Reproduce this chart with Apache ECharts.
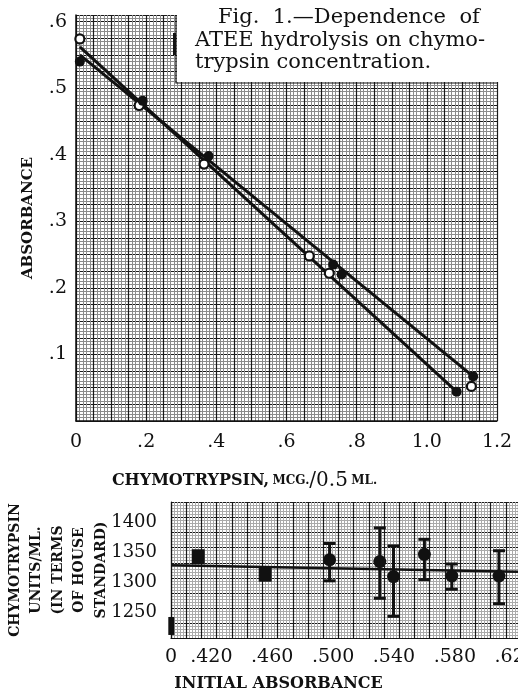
<!DOCTYPE html>
<html>
<head>
<meta charset="utf-8">
<script src="https://cdn.jsdelivr.net/npm/echarts@6/dist/echarts.min.js"></script>
<style>
  html, body { margin: 0; padding: 0; background: #fff; }
  #chart { width: 518px; height: 691px; }
</style>
</head>
<body>
<div id="chart"></div>
<script>
// upper panel - absorbance vs chymotrypsin (mcg/0.5 ml)
var concFilled = [0.011, 0.19, 0.378, 0.733, 0.757, 1.085, 1.132];
var absFilled  = [0.540, 0.481, 0.398, 0.235, 0.220, 0.044, 0.067];
var concOpen   = [0.011, 0.18, 0.365, 0.665, 0.722, 1.127];
var absOpen    = [0.574, 0.474, 0.386, 0.248, 0.222, 0.052];
var lineAConc  = [0.011, 1.085];
var lineAAbs   = [0.562, 0.044];
var lineBConc  = [0.011, 1.132];
var lineBAbs   = [0.550, 0.067];

// lower panel - units/ml vs initial absorbance (broken axis, left edge = "0")
var initAbs    = [0.4114, 0.4554, 0.4977, 0.5307, 0.5397, 0.560, 0.578, 0.609];
var units      = [1342, 1313, 1337, 1334, 1309, 1346, 1310, 1310];
var unitsLow   = [null, null, 1302, 1273, 1243, 1304, 1288, 1264];
var unitsHigh  = [null, null, 1364, 1390, 1360, 1371, 1330, 1352];
var pointShape = ['rect', 'rect', 'circle', 'circle', 'circle', 'circle', 'circle', 'circle'];
var fitAbs     = [0.3935, 0.6215];
var fitUnits   = [1328, 1317];
var breakAbs   = [0.3937];
var breakUnits = [1227];
var lowerXTicks = [0.3935, 0.42, 0.46, 0.50, 0.54, 0.58, 0.62];
var lowerYTicks = [1250, 1300, 1350, 1400];

var serif = 'DejaVu Serif';

function zip(xs, ys) {
  var out = [];
  for (var i = 0; i < xs.length; i++) out.push([xs[i], ys[i]]);
  return out;
}

var pointData = [];
for (var i = 0; i < initAbs.length; i++) {
  pointData.push({
    value: [initAbs[i], units[i]],
    symbol: pointShape[i],
    symbolSize: pointShape[i] == 'rect' ? [13, 15] : 13
  });
}
var errData = [];
for (var i = 0; i < initAbs.length; i++) {
  if (unitsLow[i] != null) errData.push([initAbs[i], unitsLow[i], unitsHigh[i]]);
}

var majorLine = { show: true, lineStyle: { color: '#1a1a1a', width: 1.2 } };
var minorLine = { show: true, lineStyle: { color: '#8c8c8c', width: 1 } };

var chart = echarts.init(document.getElementById('chart'));

chart.setOption({
  animation: false,
  backgroundColor: '#fff',
  grid: [
    { left: 76, right: 21, top: 15, bottom: 270, outerBoundsMode: 'none', containLabel: false },
    { left: 171, right: 0, top: 502, bottom: 53, outerBoundsMode: 'none', containLabel: false }
  ],
  xAxis: [{
    gridIndex: 0,
    type: 'value',
    min: 0, max: 1.2, interval: 0.05,
    name: '{a|CHYMOTRYPSIN,} {b|MCG.}{c|/0.5} {b|ML.}',
    nameLocation: 'middle',
    nameGap: 50,
    nameMoveOverlap: false,
    nameTextStyle: {
      padding: [0, 84, 0, 0],
      rich: {
        a: { fontFamily: serif, fontWeight: 'bold', fontSize: 16, color: '#111' },
        b: { fontFamily: serif, fontWeight: 'bold', fontSize: 12, color: '#111' },
        c: { fontFamily: serif, fontSize: 20, color: '#111' }
      }
    },
    axisLine: { show: true, lineStyle: { color: '#111', width: 1.5 } },
    axisTick: { show: false },
    axisLabel: {
      margin: 12,
      fontFamily: serif, fontSize: 19, color: '#111',
      formatter: function (v) {
        var k = Math.round(v * 100);
        if (k % 20 != 0) return '';
        if (k == 0) return '0';
        if (k >= 100) return (k / 100).toFixed(1);
        return '.' + (k / 10);
      }
    },
    splitLine: majorLine,
    minorTick: { show: false, splitNumber: 5 },
    minorSplitLine: minorLine
  }, {
    gridIndex: 1,
    type: 'value',
    min: fitAbs[0], max: fitAbs[1], interval: 0.01,
    name: 'INITIAL ABSORBANCE',
    nameLocation: 'middle',
    nameGap: 38,
    nameMoveOverlap: false,
    nameTextStyle: { fontFamily: serif, fontWeight: 'bold', fontSize: 16, color: '#111', padding: [0, 132, 0, 0] },
    axisLine: { show: true, lineStyle: { color: '#111', width: 1.2 } },
    axisTick: { show: false },
    axisLabel: {
      margin: 10,
      customValues: lowerXTicks,
      fontFamily: serif, fontSize: 19, color: '#111',
      formatter: function (v) {
        if (v < 0.4) return '0';
        return '.' + Math.round(v * 1000);
      }
    },
    splitLine: majorLine,
    minorTick: { show: false, splitNumber: 5 },
    minorSplitLine: { show: true, lineStyle: { color: '#aaa', width: 1 } }
  }],
  yAxis: [{
    gridIndex: 0,
    type: 'value',
    min: 0, max: 0.61, interval: 0.025,
    name: 'ABSORBANCE',
    nameLocation: 'middle',
    nameRotate: 90,
    nameGap: 40,
    nameMoveOverlap: false,
    nameTextStyle: { fontFamily: serif, fontWeight: 'bold', fontSize: 15, color: '#111' },
    axisLine: { show: true, lineStyle: { color: '#111', width: 1.5 } },
    axisTick: { show: false },
    axisLabel: {
      margin: 9,
      fontFamily: serif, fontSize: 19, color: '#111',
      formatter: function (v) {
        var k = Math.round(v * 1000);
        if (k == 0 || k % 100 != 0) return '';
        return '.' + (k / 100);
      }
    },
    splitLine: majorLine,
    minorTick: { show: false, splitNumber: 5 },
    minorSplitLine: minorLine
  }, {
    gridIndex: 1,
    type: 'value',
    min: 1207, max: 1433, interval: 25,
    name: 'CHYMOTRYPSIN\nUNITS/ML.\n(IN TERMS\nOF HOUSE\nSTANDARD)',
    nameLocation: 'middle',
    nameRotate: 90,
    nameGap: 59,
    nameMoveOverlap: false,
    nameTextStyle: { fontFamily: serif, fontWeight: 'bold', fontSize: 14, lineHeight: 21.5, color: '#111' },
    axisLine: { show: true, lineStyle: { color: '#111', width: 1.2 } },
    axisTick: { show: false },
    axisLabel: {
      margin: 14,
      customValues: lowerYTicks,
      fontFamily: serif, fontSize: 18, color: '#111',
      formatter: function (v) { return String(v); }
    },
    splitLine: majorLine,
    minorTick: { show: false, splitNumber: 5 },
    minorSplitLine: { show: true, lineStyle: { color: '#aaa', width: 1 } }
  }],
  graphic: [
    // white caption block cut out of the graph paper
    { type: 'rect', z: 50, shape: { x: 177, y: 0, width: 341, height: 82 }, style: { fill: '#fff' } },
    { type: 'polyline', z: 51, shape: { points: [[176, 15], [176, 83], [497, 83]] }, style: { stroke: '#111', lineWidth: 1.2, fill: null } },
    { type: 'rect', z: 51, shape: { x: 173, y: 33, width: 3, height: 22 }, style: { fill: '#111' } },
    { type: 'text', z: 52, left: 218, top: 7, style: { text: 'Fig.  1.\u2014Dependence  of', font: '21px "DejaVu Serif"', fill: '#111' } },
    { type: 'text', z: 52, left: 195, top: 30, style: { text: 'ATEE hydrolysis on chymo-', font: '21px "DejaVu Serif"', fill: '#111' } },
    { type: 'text', z: 52, left: 195, top: 52, style: { text: 'trypsin concentration.', font: '21px "DejaVu Serif"', fill: '#111' } }
  ],
  series: [{
    type: 'line',
    xAxisIndex: 0, yAxisIndex: 0,
    data: zip(lineAConc, lineAAbs),
    showSymbol: false,
    lineStyle: { color: '#111', width: 3 },
    z: 3
  }, {
    type: 'line',
    xAxisIndex: 0, yAxisIndex: 0,
    data: zip(lineBConc, lineBAbs),
    showSymbol: false,
    lineStyle: { color: '#111', width: 3 },
    z: 3
  }, {
    type: 'scatter',
    xAxisIndex: 0, yAxisIndex: 0,
    data: zip(concOpen, absOpen),
    symbolSize: 9,
    itemStyle: { color: '#fff', borderColor: '#111', borderWidth: 2.2, opacity: 1 },
    z: 4
  }, {
    type: 'scatter',
    xAxisIndex: 0, yAxisIndex: 0,
    data: zip(concFilled, absFilled),
    symbolSize: 10,
    itemStyle: { color: '#111', opacity: 1 },
    z: 5
  }, {
    type: 'line',
    xAxisIndex: 1, yAxisIndex: 1,
    data: zip(fitAbs, fitUnits),
    showSymbol: false,
    lineStyle: { color: '#111', width: 2.5 },
    z: 3
  }, {
    type: 'custom',
    xAxisIndex: 1, yAxisIndex: 1,
    data: errData,
    z: 4,
    renderItem: function (params, api) {
      var top = api.coord([api.value(0), api.value(2)]);
      var bot = api.coord([api.value(0), api.value(1)]);
      var cap = 6;
      var st = { stroke: '#111', lineWidth: 3 };
      return {
        type: 'group',
        children: [
          { type: 'line', shape: { x1: top[0], y1: top[1], x2: bot[0], y2: bot[1] }, style: st },
          { type: 'line', shape: { x1: top[0] - cap, y1: top[1], x2: top[0] + cap, y2: top[1] }, style: st },
          { type: 'line', shape: { x1: bot[0] - cap, y1: bot[1], x2: bot[0] + cap, y2: bot[1] }, style: st }
        ]
      };
    }
  }, {
    type: 'scatter',
    xAxisIndex: 1, yAxisIndex: 1,
    data: pointData,
    itemStyle: { color: '#111', opacity: 1 },
    z: 5
  }, {
    type: 'scatter',
    xAxisIndex: 1, yAxisIndex: 1,
    data: zip(breakAbs, breakUnits),
    symbol: 'rect',
    symbolSize: [6, 18],
    itemStyle: { color: '#111', opacity: 1 },
    z: 5
  }]
});
</script>
</body>
</html>
